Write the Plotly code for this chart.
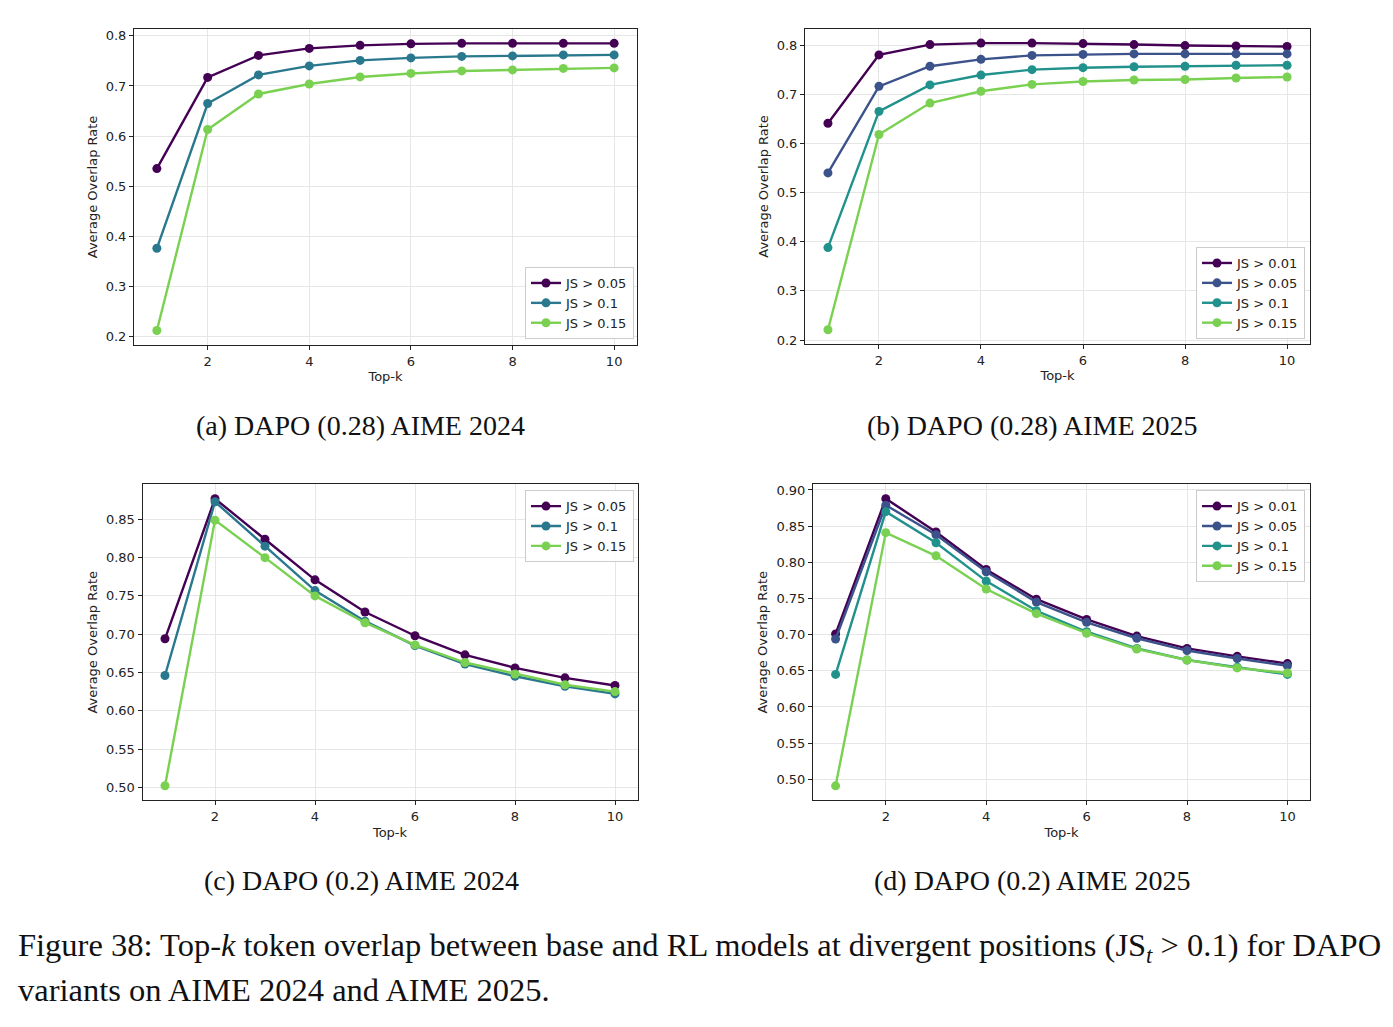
import plotly.graph_objects as go

W, H = 1393, 1027

topk = [1, 2, 3, 4, 5, 6, 7, 8, 9, 10]

# (a) DAPO (0.28) AIME 2024
a_labels = ["JS > 0.05", "JS > 0.1", "JS > 0.15"]
a_js005 = [0.535, 0.717, 0.761, 0.775, 0.781, 0.784, 0.785, 0.785, 0.785, 0.785]
a_js010 = [0.376, 0.665, 0.722, 0.740, 0.751, 0.756, 0.759, 0.760, 0.762, 0.762]
a_js015 = [0.212, 0.613, 0.684, 0.704, 0.718, 0.725, 0.730, 0.732, 0.735, 0.736]

# (b) DAPO (0.28) AIME 2025
b_labels = ["JS > 0.01", "JS > 0.05", "JS > 0.1", "JS > 0.15"]
b_js001 = [0.641, 0.780, 0.801, 0.804, 0.804, 0.803, 0.801, 0.799, 0.798, 0.797]
b_js005 = [0.540, 0.716, 0.757, 0.771, 0.779, 0.781, 0.782, 0.782, 0.782, 0.782]
b_js010 = [0.388, 0.665, 0.719, 0.739, 0.750, 0.754, 0.756, 0.757, 0.759, 0.759]
b_js015 = [0.221, 0.618, 0.682, 0.706, 0.720, 0.726, 0.729, 0.730, 0.733, 0.735]

# (c) DAPO (0.2) AIME 2024
c_labels = ["JS > 0.05", "JS > 0.1", "JS > 0.15"]
c_js005 = [0.694, 0.877, 0.824, 0.771, 0.729, 0.698, 0.673, 0.656, 0.643, 0.633]
c_js010 = [0.646, 0.873, 0.815, 0.757, 0.717, 0.685, 0.661, 0.645, 0.632, 0.622]
c_js015 = [0.502, 0.849, 0.800, 0.750, 0.715, 0.686, 0.663, 0.648, 0.634, 0.625]

# (d) DAPO (0.2) AIME 2025
d_labels = ["JS > 0.01", "JS > 0.05", "JS > 0.1", "JS > 0.15"]
d_js001 = [0.701, 0.888, 0.842, 0.790, 0.749, 0.721, 0.698, 0.681, 0.670, 0.660]
d_js005 = [0.694, 0.879, 0.838, 0.787, 0.745, 0.717, 0.695, 0.678, 0.667, 0.657]
d_js010 = [0.645, 0.870, 0.827, 0.774, 0.733, 0.704, 0.681, 0.665, 0.655, 0.645]
d_js015 = [0.491, 0.841, 0.809, 0.763, 0.729, 0.702, 0.680, 0.665, 0.654, 0.647]

subcaptions = ["(a) DAPO (0.28) AIME 2024", "(b) DAPO (0.28) AIME 2025",
               "(c) DAPO (0.2) AIME 2024", "(d) DAPO (0.2) AIME 2025"]
x_tick_vals = [2, 4, 6, 8, 10]

col3 = ["#440154", "#2a788e", "#7ad151"]
col4 = ["#440154", "#3b528b", "#21918c", "#7ad151"]

panels = [
    dict(series=[a_js005, a_js010, a_js015], labels=a_labels, colors=col3,
         px=(134, 637), py=(27, 345), yr=(0.183, 0.814), dt=0.1, fmt=".1f",
         leg=(634, 339, "right", "bottom"), cap=(360, 426)),
    dict(series=[b_js001, b_js005, b_js010, b_js015], labels=b_labels, colors=col4,
         px=(805, 1310), py=(27, 344), yr=(0.192, 0.833), dt=0.1, fmt=".1f",
         leg=(1305, 339, "right", "bottom"), cap=(1032, 426)),
    dict(series=[c_js005, c_js010, c_js015], labels=c_labels, colors=col3,
         px=(142.5, 637.5), py=(485, 803), yr=(0.483, 0.896), dt=0.05, fmt=".2f",
         leg=(634, 491, "right", "top"), cap=(361, 884)),
    dict(series=[d_js001, d_js005, d_js010, d_js015], labels=d_labels, colors=col4,
         px=(813, 1310), py=(485, 803), yr=(0.471, 0.908), dt=0.05, fmt=".2f",
         leg=(1305, 491, "right", "top"), cap=(1032, 884)),
]

fig = go.Figure()
layout = {}
annotations = []
axcol = "#222222"
gridcol = "#e6e6e6"
tickfont = dict(family="DejaVu Sans", size=13, color="#222222")

for i, p in enumerate(panels):
    n = i + 1
    xa = "x" if n == 1 else f"x{n}"
    ya = "y" if n == 1 else f"y{n}"
    lg = "legend" if n == 1 else f"legend{n}"
    for s, lab, c in zip(p["series"], p["labels"], p["colors"]):
        fig.add_trace(go.Scatter(
            x=topk, y=s, name=lab, mode="lines+markers", xaxis=xa, yaxis=ya,
            legend=lg, line=dict(color=c, width=2.4),
            marker=dict(color=c, size=9), showlegend=True))
    x0, x1 = p["px"]
    y0, y1 = p["py"]
    layout["xaxis" if n == 1 else f"xaxis{n}"] = dict(
        domain=[x0 / W, x1 / W], anchor=ya, range=[0.55, 10.45],
        tickvals=x_tick_vals, ticks="outside", ticklen=4, tickwidth=1,
        tickcolor=axcol, showline=True, linecolor=axcol, linewidth=1, mirror=True,
        showgrid=True, gridcolor=gridcol, gridwidth=1, zeroline=False,
        tickfont=tickfont,
        title=dict(text="Top-k", font=dict(family="DejaVu Sans", size=13, color="#222222"),
                   standoff=4))
    layout["yaxis" if n == 1 else f"yaxis{n}"] = dict(
        domain=[1 - y1 / H, 1 - y0 / H], anchor=xa, range=list(p["yr"]),
        dtick=p["dt"], tick0=0, tickformat=p["fmt"], ticks="outside", ticklen=4,
        tickwidth=1, tickcolor=axcol, showline=True, linecolor=axcol, linewidth=1,
        mirror=True, showgrid=True, gridcolor=gridcol, gridwidth=1, zeroline=False,
        tickfont=tickfont,
        title=dict(text="Average Overlap Rate",
                   font=dict(family="DejaVu Sans", size=13, color="#222222"), standoff=5))
    lx, ly, xanc, yanc = p["leg"]
    layout[lg] = dict(
        x=lx / W, y=1 - ly / H, xanchor=xanc, yanchor=yanc, xref="paper", yref="paper",
        bgcolor="rgba(255,255,255,0.9)", bordercolor="#cccccc", borderwidth=1,
        font=dict(family="DejaVu Sans", size=13, color="#222222"),
        itemwidth=30, tracegroupgap=0)
    cx, cy = p["cap"]
    annotations.append(dict(
        text=subcaptions[i], x=cx / W, y=1 - cy / H, xref="paper", yref="paper",
        xanchor="center", yanchor="middle", showarrow=False,
        font=dict(family="Liberation Serif", size=28, color="#111111")))

caption_line1 = "Figure 38: Top-<i>k</i> token overlap between base and RL models at divergent positions (JS<sub><i>t</i></sub> &gt; 0.1) for DAPO"
caption_line2 = "variants on AIME 2024 and AIME 2025."
annotations.append(dict(text=caption_line1, x=16 / W, y=1 - 951 / H, xref="paper", yref="paper",
                        xanchor="left", yanchor="middle", showarrow=False,
                        font=dict(family="Liberation Serif", size=32.5, color="#111111")))
annotations.append(dict(text=caption_line2, x=16 / W, y=1 - 994 / H, xref="paper", yref="paper",
                        xanchor="left", yanchor="middle", showarrow=False,
                        font=dict(family="Liberation Serif", size=32.5, color="#111111")))

fig.update_layout(
    width=W, height=H, margin=dict(l=0, r=0, t=0, b=0),
    paper_bgcolor="white", plot_bgcolor="white",
    annotations=annotations, **layout)

fig.write_html("out.html")
